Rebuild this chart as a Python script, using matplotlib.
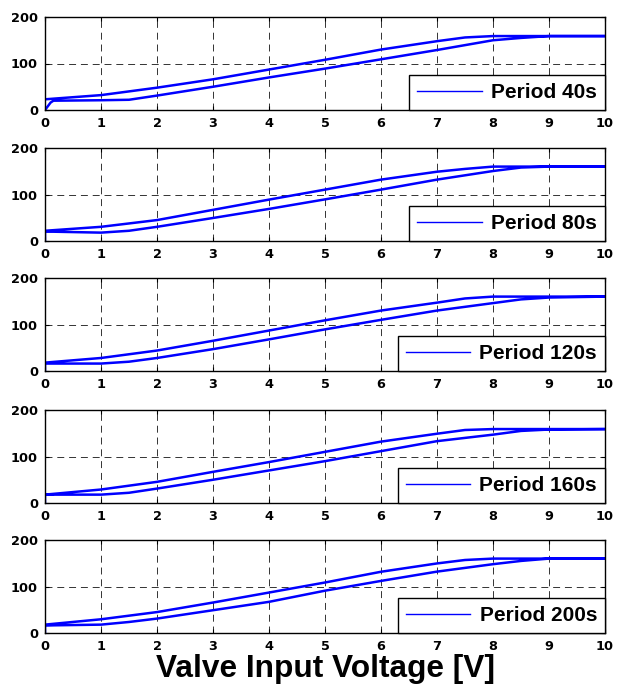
import matplotlib
matplotlib.use("Agg")
import matplotlib.pyplot as plt

plt.rcParams['lines.scale_dashes'] = False

# panel labels
periods = ["Period 40s", "Period 80s", "Period 120s", "Period 160s", "Period 200s"]

# start-up transient (x, y) before the rising branch
start_x = [[0, 0.05, 0.1], [0, 0, 0], [0, 0, 0], [0, 0, 0], [0, 0, 0]]
start_y = [[0, 8, 16], [0, 10, 20], [0, 8, 16], [0, 9, 18], [0, 8, 16]]

# rising branch (lower curve)
rise_x = [0.15, 1, 1.5, 2, 3, 4, 5, 6, 7, 8, 8.5, 9, 10]
rise_y = [
    [20, 21, 22, 31, 50, 70, 89, 109, 129, 150, 155, 159, 159],
    [20, 18, 22, 30.5, 49.5, 69, 89.5, 110.5, 132, 150.5, 158, 160, 160],
    [16, 16, 20, 28, 47, 68, 89.5, 110, 130, 146, 154, 158, 160],
    [18, 18, 22, 31, 50, 70, 90, 111.5, 133, 147, 155, 158, 159],
    [16.5, 18, 23.7, 31, 49, 67, 91, 112, 132, 148, 155, 160, 160],
]

# falling branch (upper curve)
fall_x = [10, 8, 7.5, 7, 6, 5, 4, 3, 2, 1, 0]
fall_y = [
    [159, 159, 156, 148, 130, 108, 87, 66, 48, 32, 23],
    [160, 160, 155, 149, 132, 110.5, 89, 67, 45, 30.5, 22],
    [160, 160, 156, 147, 130, 109, 87, 65, 44, 28, 18],
    [159, 159, 157, 149, 132, 110, 88, 67, 45.5, 29, 18],
    [160, 160, 157, 149.6, 131.7, 108.6, 87, 65.5, 45, 29.5, 18],
]

fig = plt.figure(figsize=(6.24, 6.89), dpi=100)
W, H = 624.0, 689.0
left, right = 45, 605
tops = [17, 148, 278, 410, 540]
ph = 93

for i in range(5):
    ax = fig.add_axes([left / W, 1 - (tops[i] + ph) / H, (right - left) / W, ph / H])
    xs = start_x[i] + rise_x + fall_x
    ys = start_y[i] + rise_y[i] + fall_y[i]
    ax.plot(xs, ys, color='#0000ff', lw=1.8, label=periods[i])
    ax.set_xlim(0, 10)
    ax.set_ylim(0, 200)
    ax.set_xticks(range(0, 11))
    ax.set_yticks([0, 100, 200])
    ax.grid(True, color='#333333', lw=0.7, linestyle=(0, (5, 3.5)))
    ax.tick_params(direction='in', length=3, width=0.8, top=True, right=True, pad=5)
    for lab in ax.get_xticklabels() + ax.get_yticklabels():
        lab.set_fontfamily('DejaVu Sans')
        lab.set_fontweight('bold')
        lab.set_fontsize(9.3)
    for s in ax.spines.values():
        s.set_linewidth(1.0)
        s.set_color('black')
    leg = ax.legend(loc='lower right', borderaxespad=0, fancybox=False,
                    framealpha=1, edgecolor='black', borderpad=0.38,
                    handlelength=3.1, handletextpad=0.45,
                    prop={'family': 'Liberation Sans', 'weight': 'bold', 'size': 15})
    leg.get_frame().set_linewidth(1.0)
    leg.get_lines()[0].set_linewidth(1.0)
    if i == 4:
        ax.set_xlabel("Valve Input Voltage [V]", family='Liberation Sans',
                      fontweight='bold', fontsize=22.8, labelpad=1)

fig.savefig("out.png", dpi=100)
